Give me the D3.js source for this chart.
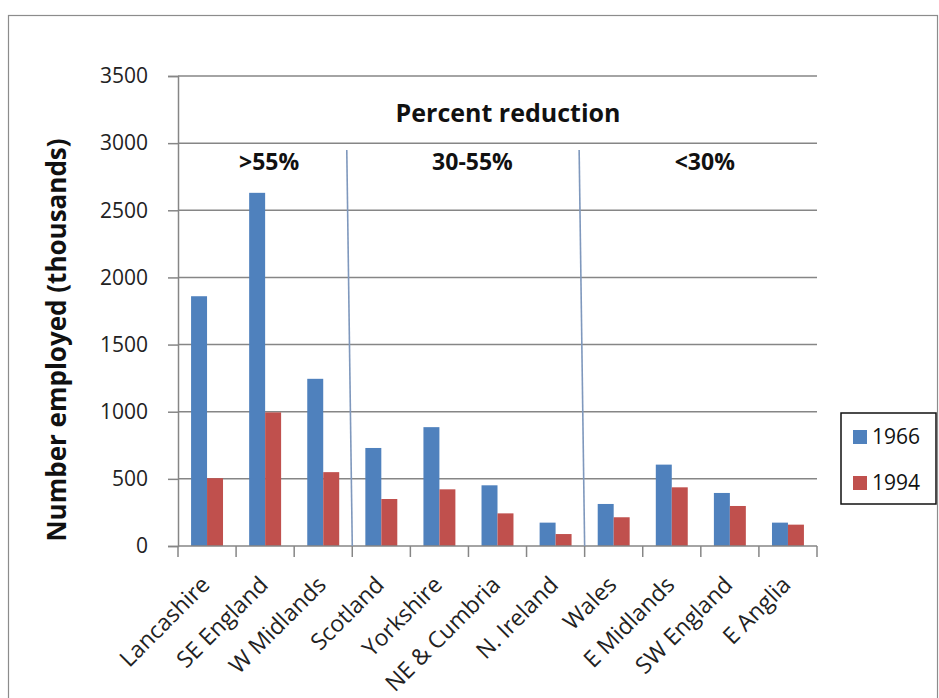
<!DOCTYPE html>
<html>
<head>
<meta charset="utf-8">
<script src="https://cdn.jsdelivr.net/npm/d3@7"></script>
<style>
  html, body { margin: 0; padding: 0; background: #fff; }
  svg { display: block; font-family: "Open Sans", "Noto Sans", sans-serif; }
</style>
</head>
<body>
<svg id="chart" width="939" height="698"></svg>
<script>
// Regions of Britain, employment in thousands
const regions = ["Lancashire", "SE England", "W Midlands", "Scotland", "Yorkshire",
  "NE & Cumbria", "N. Ireland", "Wales", "E Midlands", "SW England", "E Anglia"];
const years = ["1966", "1994"];
const employed1966 = [1860, 2630, 1245, 730, 885, 452, 174, 313, 606, 395, 174];
const employed1994 = [505, 995, 550, 350, 422, 243, 89, 214, 437, 298, 159];
const yTicks = [0, 500, 1000, 1500, 2000, 2500, 3000, 3500];

// Reduction bands: label and the regions it spans (first, last index)
const bandLabels = [">55%", "30-55%", "<30%"];
const bandStart = [0, 3, 7];
const bandEnd = [2, 6, 10];

const colors = { "1966": "#4F81BD", "1994": "#C0504D" };
const gridColor = "#868686";

const svg = d3.select("#chart");

// outer chart frame
svg.append("rect")
  .attr("x", 8.5).attr("y", 15.5)
  .attr("width", 929).attr("height", 700)
  .attr("fill", "none").attr("stroke", "#8c8c8c").attr("stroke-width", 1.2);

const plot = { left: 178, right: 817, top: 76, bottom: 546 };

const x = d3.scaleBand().domain(regions)
  .range([plot.left, plot.right])
  .paddingInner(0.45).paddingOuter(0.225);
const xs = d3.scaleBand().domain(years).range([0, x.bandwidth()]);
const y = d3.scaleLinear().domain([0, 3500]).range([plot.bottom, plot.top]);

// horizontal gridlines
svg.append("g").selectAll("line").data(yTicks.filter(d => d > 0)).join("line")
  .attr("x1", plot.left).attr("x2", plot.right)
  .attr("y1", d => y(d)).attr("y2", d => y(d))
  .attr("stroke", gridColor).attr("stroke-width", 1.5);

// bars
const rows = regions.map((r, i) => ({ region: r, values: [employed1966[i], employed1994[i]] }));
const groups = svg.append("g").selectAll("g").data(rows).join("g")
  .attr("transform", d => `translate(${x(d.region)},0)`);
groups.selectAll("rect")
  .data(d => years.map((yr, j) => ({ year: yr, value: d.values[j] })))
  .join("rect")
  .attr("x", d => xs(d.year))
  .attr("width", xs.bandwidth())
  .attr("y", d => y(d.value))
  .attr("height", d => y(0) - y(d.value))
  .attr("fill", d => colors[d.year]);

// y axis
const yAxis = d3.axisLeft(y).tickValues(yTicks).tickFormat(d3.format("d"))
  .tickSize(10).tickPadding(20);
const gy = svg.append("g").attr("transform", `translate(${plot.left},0)`).call(yAxis);
gy.select(".domain").attr("stroke", gridColor).attr("stroke-width", 1.5);
gy.selectAll(".tick line").attr("stroke", gridColor).attr("stroke-width", 1.5);
gy.selectAll(".tick text")
  .attr("font-size", 21).attr("fill", "#222")
  .attr("font-family", "'Open Sans', sans-serif");

// x axis: ticks on category boundaries
const step = x.step();
const boundaries = d3.range(regions.length + 1).map(i => plot.left + i * step);
const gx = svg.append("g");
gx.append("line")
  .attr("x1", plot.left).attr("x2", plot.right)
  .attr("y1", plot.bottom).attr("y2", plot.bottom)
  .attr("stroke", gridColor).attr("stroke-width", 1.5);
gx.selectAll("line.tk").data(boundaries).join("line").attr("class", "tk")
  .attr("x1", d => d).attr("x2", d => d)
  .attr("y1", plot.bottom).attr("y2", plot.bottom + 11)
  .attr("stroke", gridColor).attr("stroke-width", 1.5);
gx.selectAll("text").data(regions).join("text")
  .attr("transform", d => `translate(${x(d) + x.bandwidth() / 2 - 8},${plot.bottom + 28}) rotate(-45)`)
  .attr("text-anchor", "end")
  .attr("dy", "0.75em")
  .attr("font-size", 23).attr("fill", "#222")
  .text(d => d);

// divider lines between reduction bands
const dividerAfter = [2, 6];
svg.append("g").selectAll("line").data(dividerAfter).join("line")
  .attr("x1", d => plot.left + (d + 1) * step - 5.5)
  .attr("y1", 150)
  .attr("x2", d => plot.left + (d + 1) * step)
  .attr("y2", plot.bottom)
  .attr("stroke", "#7f98bd").attr("stroke-width", 1.6);

// band labels
svg.append("g").selectAll("text").data(bandLabels).join("text")
  .attr("x", (d, i) => (x(regions[bandStart[i]]) + x(regions[bandEnd[i]]) + x.bandwidth()) / 2 + 4)
  .attr("y", 170)
  .attr("text-anchor", "middle")
  .attr("font-size", 23).attr("font-weight", "bold").attr("fill", "#111")
  .text(d => d);

svg.append("text")
  .attr("x", 508).attr("y", 122)
  .attr("text-anchor", "middle")
  .attr("font-size", 25).attr("font-weight", "bold").attr("fill", "#111")
  .text("Percent reduction");

// y axis title
svg.append("text")
  .attr("transform", "translate(66,340) rotate(-90)")
  .attr("text-anchor", "middle")
  .attr("font-size", 26).attr("font-weight", "bold").attr("fill", "#111")
  .text("Number employed (thousands)");

// legend
const legend = svg.append("g");
legend.append("rect")
  .attr("x", 841).attr("y", 413).attr("width", 95).attr("height", 91)
  .attr("fill", "#fff").attr("stroke", "#111").attr("stroke-width", 1.5);
const li = legend.selectAll("g").data(years).join("g")
  .attr("transform", (d, i) => `translate(853,${430 + i * 46})`);
li.append("rect").attr("width", 14).attr("height", 14).attr("fill", d => colors[d]);
li.append("text").attr("x", 19).attr("y", 14)
  .attr("font-size", 21).attr("fill", "#111").text(d => d);
</script>
</body>
</html>
